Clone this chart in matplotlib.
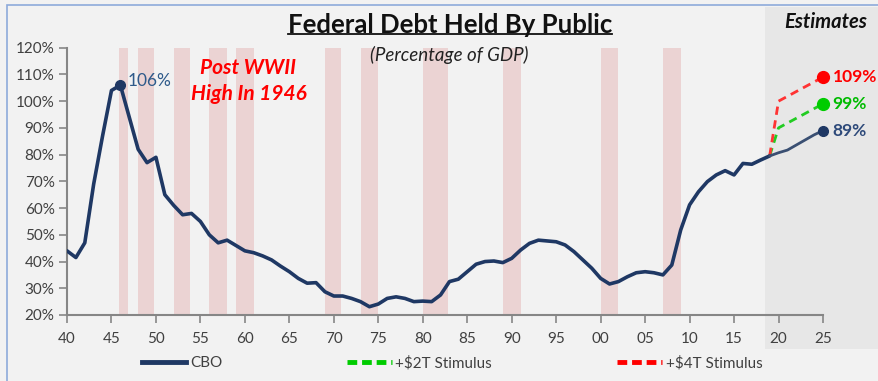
import numpy as np
from matplotlib import pyplot as plt
from matplotlib.lines import Line2D
from matplotlib.patches import Rectangle

# ---------------------------------------------------------------------------------------------------
# Data
# ---------------------------------------------------------------------------------------------------
years = list(range(1940, 2020))
cbo_hist = [44, 41.5, 47, 69, 87, 104, 106, 94, 82, 77,
            79, 65, 61, 57.5, 58, 55, 50, 47, 48, 46,
            44, 43.3, 42.1, 40.6, 38.3, 36.2, 33.7, 31.9, 32.1, 28.7,
            27.1, 27.1, 26.2, 25, 23.1, 24.1, 26.2, 26.8, 26.2, 25,
            25.2, 25, 27.5, 32.5, 33.4, 36.2, 39, 40, 40.2, 39.6,
            41.2, 44.3, 46.8, 48, 47.7, 47.4, 46.2, 43.7, 40.6, 37.5,
            33.7, 31.6, 32.5, 34.3, 35.8, 36.2, 35.8, 35, 38.7, 51.8,
            61.2, 66.1, 69.9, 72.4, 74, 72.4, 76.7, 76.4, 78, 79.5]

est_years = [2019, 2020, 2021, 2022, 2023, 2024, 2025]
cbo_est = [79.5, 80.7, 81.7, 83.6, 85.5, 87.4, 89]
stim_2t_years = [2019, 2020, 2025]
stim_2t = [79.5, 90, 99]
stim_4t_years = [2019, 2020, 2025]
stim_4t = [79.5, 100, 109]

recession_start = [1945.9, 1948, 1952, 1956, 1959, 1969, 1973, 1980, 1989, 2000, 2007]
recession_end = [1946.9, 1949.8, 1953.8, 1958, 1961, 1970.8, 1975, 1982.8, 1991, 2002, 2009]

xtick_years = list(range(1940, 2026, 5))
xtick_labels = ["%02d" % (y % 100) for y in xtick_years]
ytick_values = list(range(20, 121, 10))

# ---------------------------------------------------------------------------------------------------
# Styling
# ---------------------------------------------------------------------------------------------------
plt.rcParams['font.family'] = ['Lato', 'DejaVu Sans']
navy = "#1f3864"
navy_light = "#3a4f72"
red = "#ff3333"
green = "#22cc22"
bg = "#f2f2f2"
txt = "#404040"

fig = plt.figure(figsize=(8.79, 3.81), dpi=100, facecolor=bg)

# outer chart border (top and left visible)
fig.add_artist(Rectangle((7 / 879, -0.1), 1.2, 1 - 5 / 381 + 0.1, transform=fig.transFigure,
                         facecolor=bg, edgecolor="#8eaadb", linewidth=1.2, zorder=-2))
# estimates shading
fig.add_artist(Rectangle((765 / 879, 1 - 349 / 381), 1.0, (349 - 7) / 381, transform=fig.transFigure,
                         facecolor="#e7e7e7", edgecolor="none", zorder=-1))

ax = fig.add_axes([67 / 879, 1 - 315 / 381, (823 - 67) / 879, (315 - 47.7) / 381])
ax.set_facecolor("none")
ax.set_zorder(1)

for s, e in zip(recession_start, recession_end):
    ax.axvspan(s, e, color="#ebd3d3", zorder=1, lw=0)

ax.plot(years, cbo_hist, color=navy, lw=2.6, solid_joinstyle="round", solid_capstyle="round", zorder=4)
ax.plot(est_years, cbo_est, color=navy_light, lw=2.0, solid_capstyle="round", zorder=4)
ax.plot(stim_2t_years, stim_2t, color=green, lw=2.0, dashes=(3, 2), zorder=3)
ax.plot(stim_4t_years, stim_4t, color=red, lw=2.0, dashes=(3, 2), zorder=3)

# end points and peak markers
ax.plot(est_years[-1], cbo_est[-1], "o", color=navy, ms=7, zorder=5, clip_on=False)
ax.plot(stim_2t_years[-1], stim_2t[-1], "o", color="#00cc00", ms=8.5, zorder=5, clip_on=False)
ax.plot(stim_4t_years[-1], stim_4t[-1], "o", color="#ff0000", ms=8.5, zorder=5, clip_on=False)
peak = int(np.argmax(cbo_hist))
ax.plot(years[peak], cbo_hist[peak], "o", color=navy, ms=7, zorder=5)

ax.annotate("%d%%" % round(cbo_hist[peak]), (years[peak], cbo_hist[peak]), xytext=(5, 3),
            textcoords="offset points", va="center", ha="left", fontsize=12.5, color="#2e5a8a")
end_labels = [(est_years[-1], cbo_est[-1], "#2e4a7a"),
              (stim_2t_years[-1], stim_2t[-1], "#00bb00"),
              (stim_4t_years[-1], stim_4t[-1], "#ff0000")]
for x, y, c in end_labels:
    ax.annotate("%d%%" % round(y), (x, y), xytext=(7, 0), textcoords="offset points",
                va="center", ha="left", fontsize=12.5, fontweight="bold", color=c,
                annotation_clip=False)

ax.text(1960.4, 107.6, "Post WWII\nHigh In 1946", color="#ff0000", fontsize=15, fontweight="bold",
        fontstyle="italic", ha="center", va="center", linespacing=1.35)

ax.set_xlim(1940, 2025)
ax.set_ylim(20, 120)
ax.set_xticks(xtick_years)
ax.set_xticklabels(xtick_labels)
ax.set_yticks(ytick_values)
ax.set_yticklabels(["%d%%" % v for v in ytick_values])
ax.tick_params(axis="both", colors="#868686", labelcolor=txt, labelsize=11, length=6, width=1.2)
ax.tick_params(axis="y", pad=3)
ax.tick_params(axis="x", pad=6)
for side in ("top", "right"):
    ax.spines[side].set_visible(False)
for side in ("left", "bottom"):
    ax.spines[side].set_color("#868686")
    ax.spines[side].set_linewidth(1.5)

# titles
title = fig.text(450 / 879, 1 - 25 / 381, "Federal Debt Held By Public", ha="center", va="center",
                 fontsize=18.5, fontweight="bold", color="#111111")
fig.text(449 / 879, 1 - 55 / 381, "(Percentage of GDP)", ha="center", va="center",
         fontsize=13.5, fontstyle="italic", color="#222222")
fig.text(826 / 879, 1 - 22 / 381, "Estimates", ha="center", va="center",
         fontsize=14.5, fontweight="bold", fontstyle="italic", color="#111111")

# underline the title
fig.canvas.draw()
bb = title.get_window_extent().transformed(fig.transFigure.inverted())
fig.add_artist(Line2D([bb.x0, bb.x1], [1 - 34 / 381] * 2, transform=fig.transFigure,
                      color="#111111", lw=1.3))

handles = [Line2D([], [], color=navy, lw=3.5),
           Line2D([], [], color="#00cc00", lw=3.5, dashes=(2, 1)),
           Line2D([], [], color="#ff0000", lw=3.5, dashes=(2, 1))]
fig.legend(handles, ["CBO", "+$2T Stimulus", "+$4T Stimulus"], loc="center",
           bbox_to_anchor=(452 / 879, 1 - 363 / 381), ncol=3, frameon=False, fontsize=11,
           handlelength=2.9, handletextpad=0.25, columnspacing=8.2, labelcolor=txt)

fig.savefig("out.png", dpi=100, facecolor=bg)
